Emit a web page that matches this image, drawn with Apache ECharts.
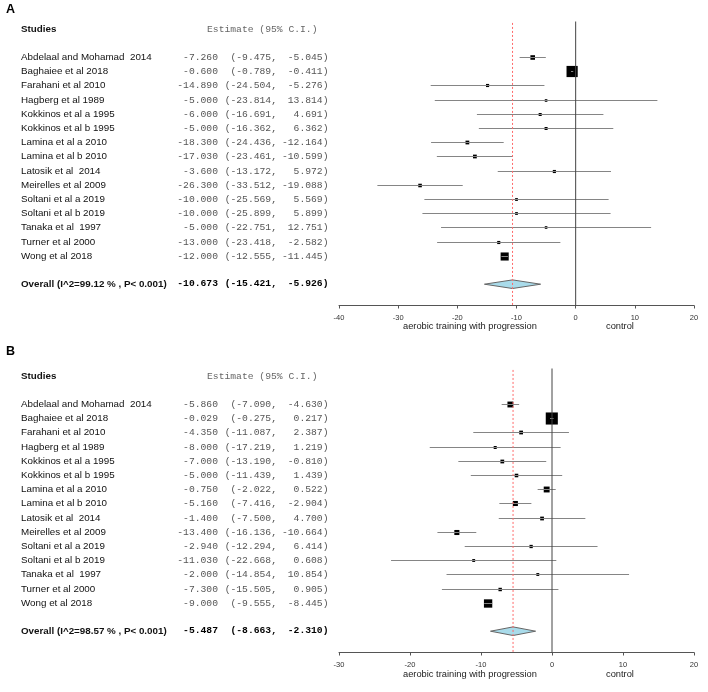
<!DOCTYPE html>
<html>
<head>
<meta charset="utf-8">
<script src="https://cdn.jsdelivr.net/npm/echarts@6/dist/echarts.min.js"></script>
<style>
  html, body { margin: 0; background: #fff; }
  #main { width: 708px; height: 692px; }
</style>
</head>
<body>
<div id="main"></div>
<script>
// study labels (same in both panels)
var studies = [
  'Abdelaal and Mohamad  2014', 'Baghaiee et al 2018', 'Farahani et al 2010',
  'Hagberg et al 1989', 'Kokkinos et al a 1995', 'Kokkinos et al b 1995',
  'Lamina et al a 2010', 'Lamina et al b 2010', 'Latosik et al  2014',
  'Meirelles et al 2009', 'Soltani et al a 2019', 'Soltani et al b 2019',
  'Tanaka et al  1997', 'Turner et al 2000', 'Wong et al 2018'
];

// panel A
var estA = [-7.260, -0.600, -14.890, -5.000, -6.000, -5.000, -18.300, -17.030, -3.600, -26.300, -10.000, -10.000, -5.000, -13.000, -12.000];
var lowA = [-9.475, -0.789, -24.504, -23.814, -16.691, -16.362, -24.436, -23.461, -13.172, -33.512, -25.569, -25.899, -22.751, -23.418, -12.555];
var upA = [-5.045, -0.411, -5.276, 13.814, 4.691, 6.362, -12.164, -10.599, 5.972, -19.088, 5.569, 5.899, 12.751, -2.582, -11.445];
var weightsA = [4, 28, 1.6, 1.0, 1.5, 1.5, 2.5, 2.5, 1.6, 2.2, 1.2, 1.2, 1.0, 1.6, 14];
var overallA = [-10.673, -15.421, -5.926];
var overallLabelA = 'Overall (I^2=99.12 % , P< 0.001)';
var ticksA = [-40, 20];

// panel B
var estB = [-5.860, -0.029, -4.350, -8.000, -7.000, -5.000, -0.750, -5.160, -1.400, -13.400, -2.940, -11.030, -2.000, -7.300, -9.000];
var lowB = [-7.090, -0.275, -11.087, -17.219, -13.190, -11.439, -2.022, -7.416, -7.500, -16.136, -12.294, -22.668, -14.854, -15.505, -9.555];
var upB = [-4.630, 0.217, 2.387, 1.219, -0.810, 1.439, 0.522, -2.904, 4.700, -10.664, 6.414, 0.608, 10.854, 0.905, -8.445];
var weightsB = [7, 33, 2.5, 1.5, 2.5, 2.2, 7, 5, 2.5, 5, 1.8, 1.3, 1.3, 2, 15];
var overallB = [-5.487, -8.663, -2.310];
var overallLabelB = 'Overall (I^2=98.57 % , P< 0.001)';
var ticksB = [-30, 20];

var leftTitle = 'aerobic training with progression';
var rightTitle = 'control';

var ROW_OVERALL = 16;
var SANS = '"Liberation Sans", Arial, sans-serif';
var MONO = '"Liberation Mono", "Courier New", monospace';

var chart = echarts.init(document.getElementById('main'), null, { renderer: 'canvas' });

function tableRows(est, low, up, overall, overallLabel) {
  var rows = [{ row: -2, header: true }];
  studies.forEach(function (name, i) {
    rows.push({ row: i, name: name, est: est[i], low: low[i], up: up[i] });
  });
  rows.push({ row: ROW_OVERALL, name: overallLabel, est: overall[0], low: overall[1], up: overall[2], bold: true });
  return rows;
}

function tableRenderer(rows, xMin) {
  return function (params, api) {
    var r = rows[params.dataIndex];
    var y = Math.round(api.coord([xMin, r.row])[1]);
    if (r.header) {
      return { type: 'group', children: [
        { type: 'text', style: { text: 'Studies', x: 21, y: y, fill: '#111', font: 'bold 9.8px ' + SANS, verticalAlign: 'middle' } },
        { type: 'text', style: { text: 'Estimate (95% C.I.)', x: 207, y: y, fill: '#666', font: '9.7px ' + MONO, verticalAlign: 'middle' } }
      ] };
    }
    var wt = r.bold ? 'bold ' : '';
    var col = r.bold ? '#000' : '#555';
    return { type: 'group', children: [
      { type: 'text', style: { text: r.name, x: 21, y: y, fill: '#111', font: wt + '9.8px ' + SANS, verticalAlign: 'middle' } },
      { type: 'text', style: { text: r.est.toFixed(3), x: 218, y: y, fill: col, font: wt + '9.7px ' + MONO, align: 'right', verticalAlign: 'middle' } },
      { type: 'text', style: { text: '(' + r.low.toFixed(3) + ',', x: 277, y: y, fill: col, font: wt + '9.7px ' + MONO, align: 'right', verticalAlign: 'middle' } },
      { type: 'text', style: { text: r.up.toFixed(3) + ')', x: 328.5, y: y, fill: col, font: wt + '9.7px ' + MONO, align: 'right', verticalAlign: 'middle' } }
    ] };
  };
}

// square side grows with the square root of the study weight
function markData(est, low, up, w) {
  return est.map(function (e, i) {
    return [e, i, low[i], up[i], Math.sqrt(w[i]) * 2 + 0.6];
  });
}

function renderMark(params, api) {
  var row = api.value(1);
  var p = api.coord([api.value(0), row]);
  var l = api.coord([api.value(2), row]);
  var u = api.coord([api.value(3), row]);
  var s = api.value(4);
  var y = Math.round(p[1]) + 0.5;
  return { type: 'group', children: [
    { type: 'rect', shape: { x: p[0] - s / 2, y: y - s / 2, width: s, height: s }, style: { fill: '#000' } },
    { type: 'line', shape: { x1: l[0], y1: y, x2: u[0], y2: y }, style: { stroke: '#858585', lineWidth: 1 } }
  ] };
}

function renderDiamond(params, api) {
  var row = api.value(1);
  var c = api.coord([api.value(0), row]);
  var l = api.coord([api.value(2), row]);
  var u = api.coord([api.value(3), row]);
  var h = 4.3;
  return { type: 'polygon', shape: { points: [[l[0], c[1]], [c[0], c[1] - h], [u[0], c[1]], [c[0], c[1] + h]] },
    style: { fill: '#a9dbea', stroke: '#666', lineWidth: 1 } };
}

function vLine(gi, x, top, color, type) {
  return {
    type: 'line', xAxisIndex: gi, yAxisIndex: gi, symbol: 'none', silent: true,
    data: [[x, top], [x, 17.5]],
    lineStyle: { color: color, width: 1, type: type }
  };
}

function xAxisFor(gi, range) {
  return {
    gridIndex: gi, type: 'value', min: range[0], max: range[1], interval: 10,
    position: 'bottom',
    axisLine: { show: true, onZero: false, lineStyle: { color: '#555', width: 1 } },
    axisTick: { show: true, length: 3, lineStyle: { color: '#555' } },
    axisLabel: { color: '#333', fontSize: 7.5, fontFamily: SANS, margin: 8 },
    splitLine: { show: false }
  };
}

function yAxisFor(gi) {
  return { gridIndex: gi, type: 'value', inverse: true, min: -2.5, max: 17.5, show: false };
}

function panelSeries(gi, est, low, up, w, overall, overallLabel, xMin) {
  var rows = tableRows(est, low, up, overall, overallLabel);
  return [
    vLine(gi, 0, -2.5, '#444', 'solid'),
    { type: 'custom', xAxisIndex: gi, yAxisIndex: gi, renderItem: renderMark, data: markData(est, low, up, w), silent: true },
    { type: 'custom', xAxisIndex: gi, yAxisIndex: gi, renderItem: renderDiamond, data: [[overall[0], ROW_OVERALL, overall[1], overall[2]]], silent: true },
    vLine(gi, overall[0], -2.4, '#ff6a6a', [2, 2]),
    { type: 'custom', xAxisIndex: gi, yAxisIndex: gi, renderItem: tableRenderer(rows, xMin), data: rows.map(function (r) { return [xMin, r.row]; }), silent: true }
  ];
}

function axisTitles(y) {
  return [
    { type: 'text', left: 403, top: y - 6, style: { text: leftTitle, fill: '#222', font: '9.3px ' + SANS } },
    { type: 'text', left: 606, top: y - 6, style: { text: rightTitle, fill: '#222', font: '9.3px ' + SANS } }
  ];
}

var option = {
  backgroundColor: '#fff',
  animation: false,
  grid: [
    { left: 339, width: 355, top: 21.5, height: 284 },
    { left: 339, width: 355, top: 368.5, height: 284 }
  ],
  xAxis: [xAxisFor(0, ticksA), xAxisFor(1, ticksB)],
  yAxis: [yAxisFor(0), yAxisFor(1)],
  graphic: [
    { type: 'text', left: 6, top: 3, style: { text: 'A', fill: '#000', font: 'bold 12.5px ' + SANS } },
    { type: 'text', left: 6, top: 345, style: { text: 'B', fill: '#000', font: 'bold 12.5px ' + SANS } }
  ].concat(axisTitles(328), axisTitles(676)),
  series: [].concat(
    panelSeries(0, estA, lowA, upA, weightsA, overallA, overallLabelA, ticksA[0]),
    panelSeries(1, estB, lowB, upB, weightsB, overallB, overallLabelB, ticksB[0])
  )
};

chart.setOption(option);
</script>
</body>
</html>
